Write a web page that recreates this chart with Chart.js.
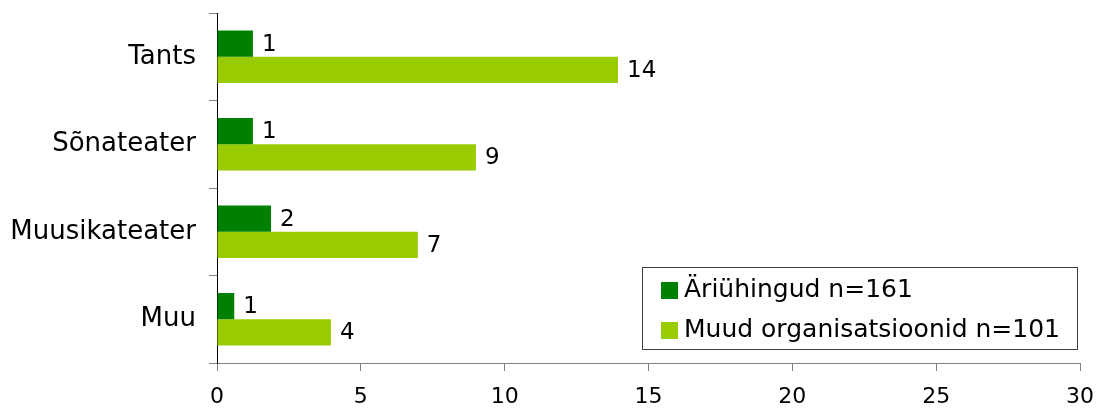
<!DOCTYPE html>
<html>
<head>
<meta charset="utf-8">
<script src="https://cdn.jsdelivr.net/npm/chart.js@4.4.0/dist/chart.umd.min.js"></script>
<style>
  html, body { margin: 0; padding: 0; background: #fff; }
  #wrap { width: 1096px; height: 408px; }
</style>
</head>
<body>
<div id="wrap"><canvas id="chart" width="1096" height="408"></canvas></div>
<script>
// data
const categories = ['Tants', 'Sõnateater', 'Muusikateater', 'Muu'];
const seriesNames = ['Äriühingud n=161', 'Muud organisatsioonid n=101'];
const ariyhingud = [1.25, 1.25, 1.88, 0.6];
const muudOrg = [13.94, 9.0, 6.98, 3.96];
const xTicks = [0, 5, 10, 15, 20, 25, 30];

const colors = {
    dark: '#008000',
    light: '#99cc00',
    grid: '#808080',
    text: '#000000'
};
const FONT = "'DejaVu Sans', Verdana, sans-serif";

// value labels at the end of each bar
const valueLabels = {
    id: 'valueLabels',
    afterDatasetsDraw(chart) {
        const ctx = chart.ctx;
        ctx.save();
        ctx.font = '23px ' + FONT;
        ctx.fillStyle = colors.text;
        ctx.textAlign = 'left';
        ctx.textBaseline = 'middle';
        chart.data.datasets.forEach((ds, i) => {
            const meta = chart.getDatasetMeta(i);
            meta.data.forEach((bar, j) => {
                ctx.fillText(String(Math.round(ds.data[j])), bar.x + 9, bar.y + 1);
            });
        });
        ctx.restore();
    }
};

// boxed legend inside the plot area
const boxLegend = {
    id: 'boxLegend',
    afterDraw(chart) {
        const ctx = chart.ctx;
        const area = chart.chartArea;
        const w = 435, h = 82;
        const x = area.right - 3 - w;
        const y = area.bottom - 14 - h;
        ctx.save();
        ctx.fillStyle = '#fff';
        ctx.fillRect(x, y, w, h);
        ctx.strokeStyle = '#404040';
        ctx.lineWidth = 1;
        ctx.strokeRect(x + 0.5, y + 0.5, w, h);
        ctx.font = '25px ' + FONT;
        ctx.textBaseline = 'middle';
        ctx.textAlign = 'left';
        chart.data.datasets.forEach((ds, i) => {
            const cy = y + 23 + i * 40;
            ctx.fillStyle = ds.backgroundColor;
            ctx.fillRect(x + 19, cy - 8, 17, 17);
            ctx.fillStyle = colors.text;
            ctx.fillText(ds.label, x + 42, cy);
        });
        ctx.restore();
    }
};

const ctx = document.getElementById('chart').getContext('2d');
new Chart(ctx, {
    type: 'bar',
    data: {
        labels: categories,
        datasets: [
            {
                label: seriesNames[0],
                data: ariyhingud,
                backgroundColor: colors.dark,
                borderWidth: 0,
                categoryPercentage: 0.6,
                barPercentage: 1.0
            },
            {
                label: seriesNames[1],
                data: muudOrg,
                backgroundColor: colors.light,
                borderWidth: 0,
                categoryPercentage: 0.6,
                barPercentage: 1.0
            }
        ]
    },
    options: {
        indexAxis: 'y',
        responsive: false,
        animation: false,
        layout: {
            padding: { top: 13, right: 16, left: 0, bottom: 0 }
        },
        plugins: {
            legend: { display: false },
            tooltip: { enabled: false }
        },
        scales: {
            x: {
                type: 'linear',
                min: 0,
                max: 30,
                afterBuildTicks(scale) {
                    scale.ticks = xTicks.map(v => ({ value: v }));
                },
                ticks: {
                    color: colors.text,
                    font: { family: FONT, size: 22 },
                    padding: 13,
                    maxRotation: 0
                },
                grid: {
                    drawOnChartArea: false,
                    drawTicks: true,
                    tickLength: 8,
                    color: colors.grid
                },
                border: { display: true, color: colors.grid, width: 1 },
                afterFit(scale) {
                    scale.height = 45;
                    scale.paddingLeft = 0;
                    scale.paddingRight = 0;
                }
            },
            y: {
                type: 'category',
                ticks: {
                    color: colors.text,
                    font: { family: FONT, size: 26 },
                    padding: 13
                },
                grid: {
                    offset: true,
                    drawOnChartArea: false,
                    drawTicks: true,
                    tickLength: 8,
                    color: colors.grid
                },
                border: { display: true, color: '#000000', width: 1 },
                afterFit(scale) {
                    scale.width = 217;
                    scale.paddingTop = 0;
                    scale.paddingBottom = 0;
                }
            }
        }
    },
    plugins: [valueLabels, boxLegend]
});
</script>
</body>
</html>
